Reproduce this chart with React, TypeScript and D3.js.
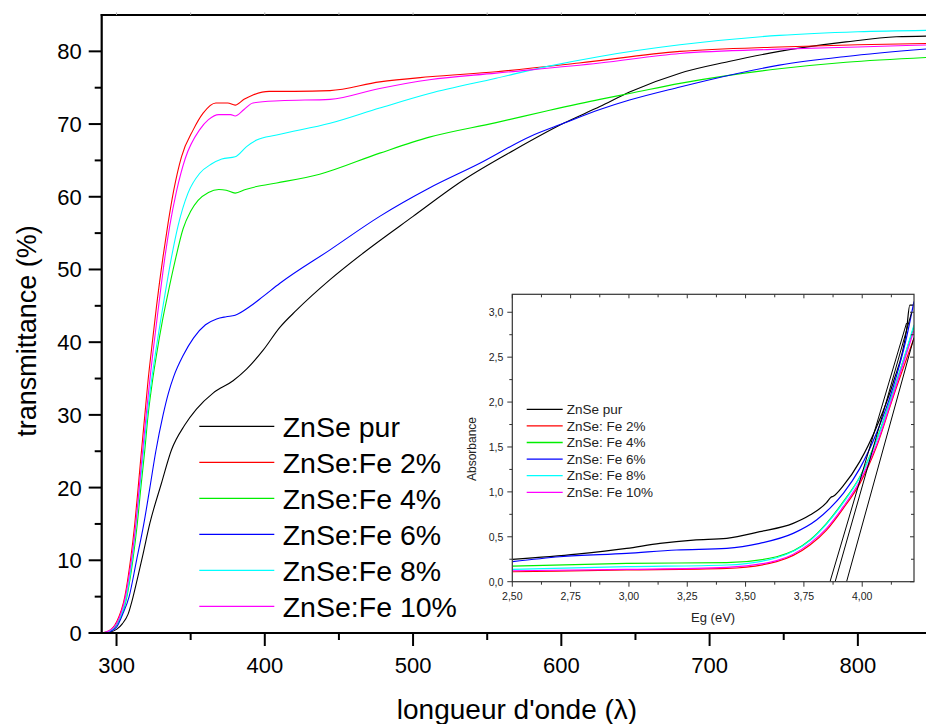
import React from 'react';
import * as d3 from 'd3';

const W = 926;
const H = 724;
const FONT = "'Liberation Sans', Arial, sans-serif";

// ---------- main chart data: [wavelength (nm), transmittance (%)] ----------
const seriesLabels = ['ZnSe pur', 'ZnSe:Fe 2%', 'ZnSe:Fe 4%', 'ZnSe:Fe 6%', 'ZnSe:Fe 8%', 'ZnSe:Fe 10%'];
const insetLabels = ['ZnSe pur', 'ZnSe: Fe 2%', 'ZnSe: Fe 4%', 'ZnSe: Fe 6%', 'ZnSe: Fe 8%', 'ZnSe: Fe 10%'];
const seriesColors = ['#000000', '#ff0000', '#00ee00', '#0000ff', '#00ffff', '#ff00ff'];

const tPur: [number, number][] = [
  [290, 0], [295, 0.1], [300, 0.5], [304, 1.3], [307.8, 2.6], [311.2, 5], [313.9, 7.3], [317.5, 10.5],
  [322.5, 15.1], [330.3, 20.6], [337.1, 25.2], [346, 28.6], [353.9, 30.8], [365.1, 33], [378.6, 34.7],
  [387.7, 36.3], [398.9, 38.9], [410, 42.0], [421.4, 44.4], [444, 48.6], [466, 52.2], [500, 57.3],
  [534, 62.3], [568, 66.4], [601.5, 70.1], [626, 72.4], [646, 74.4], [680, 77.0], [713, 78.6],
  [747, 80.0], [792, 81.3], [826, 82.0], [850, 82.1],
];
const tFe2: [number, number][] = [
  [290, 0], [295, 0.3], [300, 1.5], [305.6, 5], [309.4, 10], [312.3, 15], [314.6, 20], [316.8, 25],
  [319.1, 30], [321.3, 34.8], [323.6, 39], [327, 45], [331.4, 51.8], [334.8, 56.4], [338.6, 60.9],
  [343.8, 65.5], [351.7, 69.2], [358.4, 71.5], [367, 72.9], [375, 72.9], [380, 72.6], [386, 73.4],
  [392, 74.0], [403, 74.5], [420, 74.5], [444, 74.6], [477.5, 75.8], [511, 76.5], [556, 77.2],
  [612, 78.4], [680, 80.0], [747, 80.6], [800, 80.9], [850, 81.1],
];
const tFe4: [number, number][] = [
  [290, 0], [295, 0.2], [300, 1.1], [307, 5], [311, 10], [314, 15], [316.4, 20], [319, 25],
  [321.3, 30], [324, 34.3], [327, 38.3], [331, 43], [335, 47], [339.3, 51], [344.9, 55.6],
  [350, 58], [355, 59.5], [362, 60.6], [369, 61.0], [374, 60.9], [380, 60.5], [387, 61.0],
  [394.5, 61.4], [408, 61.9], [437, 63.1], [477.5, 66.0], [511, 68.2], [556, 70.2], [590, 71.8],
  [626, 73.4], [646, 74.2], [680, 75.6], [713, 76.7], [747, 77.6], [792, 78.5], [850, 79.2],
];
const tFe6: [number, number][] = [
  [290, 0], [295, 0.15], [300, 0.8], [304, 2.5], [308.5, 5], [313.5, 10], [318.4, 15], [322.5, 20],
  [326.5, 25], [331.4, 30], [335, 33], [338.6, 35.3], [345, 38.2], [352, 40.6], [360, 42.4],
  [367.5, 43.2], [374, 43.5], [380, 43.7], [389.9, 44.9], [398.9, 46.3], [410.2, 48.1], [444, 52.7],
  [477.5, 57.3], [511, 61.2], [545, 64.6], [579, 68.3], [601.5, 70.1], [626, 72.0], [646, 73.3],
  [680, 75.1], [698, 76.0], [747, 78.1], [792, 79.3], [850, 80.4],
];
const tFe8: [number, number][] = [
  [290, 0], [295, 0.25], [300, 1.2], [306.7, 5], [310.5, 10], [313.2, 15], [315.7, 20], [318.2, 25],
  [320.7, 30], [323.5, 34.6], [326.5, 38.8], [331.4, 45], [337, 51.6], [341.5, 56], [348.2, 60.5],
  [356, 63.2], [364, 64.5], [371, 65.2], [380, 65.5], [387.7, 66.9], [394.5, 67.8], [408, 68.5],
  [444, 70.1], [477.5, 72.2], [511, 74.2], [556, 76.3], [590, 77.9], [626, 79.3], [680, 80.9],
  [747, 82.2], [800, 82.7], [850, 82.9],
];
const tFe10: [number, number][] = [
  [290, 0], [295, 0.3], [300, 1.3], [306, 5], [310, 10], [313, 15], [315.3, 20], [317.6, 25],
  [320, 30], [322.3, 34.5], [324.5, 38.5], [328.1, 44.5], [332.5, 51.5], [335.9, 56], [340.4, 60.7],
  [346.4, 65.3], [356, 69.2], [362, 70.6], [369, 71.3], [377, 71.3], [380, 71.1], [386, 72.0],
  [392, 72.9], [410, 73.2], [444, 73.4], [477.5, 74.9], [511, 76.1], [556, 77.0], [626, 78.4],
  [680, 79.7], [747, 80.3], [800, 80.6], [850, 80.9],
];
const mainSeries = [tPur, tFe2, tFe4, tFe6, tFe8, tFe10];

const mainYMajor = [0, 10, 20, 30, 40, 50, 60, 70, 80];
const mainYMinor = [5, 15, 25, 35, 45, 55, 65, 75];
const mainXMajor = [300, 400, 500, 600, 700, 800];
const mainXMinor = [350, 450, 550, 650, 750];
const mainXTop = [300, 350, 400, 450, 500, 550, 600, 650, 700, 750, 800];

// ---------- inset data: [Eg (eV), absorbance] ----------
const aPur: [number, number][] = [
  [2.5, 0.249], [2.776, 0.308], [2.99, 0.371], [3.133, 0.427], [3.276, 0.464], [3.419, 0.483],
  [3.561, 0.557], [3.704, 0.65], [3.776, 0.742], [3.847, 0.88], [3.866, 0.94], [3.876, 0.952],
  [3.919, 1.07], [3.99, 1.34], [4.061, 1.72], [4.133, 2.22], [4.19, 2.8], [4.204, 3.08], [4.219, 3.08],
];
const aFe2: [number, number][] = [
  [2.5, 0.111], [2.99, 0.13], [3.419, 0.148], [3.633, 0.223], [3.776, 0.408], [3.847, 0.575],
  [3.919, 0.817], [3.99, 1.095], [4.061, 1.503], [4.133, 2.06], [4.222, 2.71],
];
const aFe4: [number, number][] = [
  [2.5, 0.174], [2.99, 0.204], [3.419, 0.212], [3.633, 0.278], [3.776, 0.464], [3.847, 0.65],
  [3.919, 0.891], [3.99, 1.169], [4.061, 1.578], [4.133, 2.12], [4.222, 2.84],
];
const aFe6: [number, number][] = [
  [2.5, 0.223], [2.704, 0.278], [2.99, 0.316], [3.204, 0.353], [3.419, 0.371], [3.561, 0.427],
  [3.704, 0.538], [3.804, 0.687], [3.861, 0.817], [3.919, 0.984], [3.99, 1.262], [4.061, 1.652],
  [4.133, 2.17], [4.19, 2.72], [4.222, 3.12],
];
const aFe8: [number, number][] = [
  [2.5, 0.137], [2.99, 0.167], [3.419, 0.186], [3.633, 0.267], [3.776, 0.457], [3.847, 0.642],
  [3.919, 0.88], [3.99, 1.162], [4.061, 1.57], [4.133, 2.11], [4.222, 2.86],
];
const aFe10: [number, number][] = [
  [2.5, 0.122], [2.99, 0.137], [3.419, 0.16], [3.633, 0.234], [3.776, 0.427], [3.847, 0.594],
  [3.919, 0.835], [3.99, 1.121], [4.061, 1.522], [4.133, 2.079], [4.222, 2.8],
];
const insetSeries = [aPur, aFe2, aFe4, aFe6, aFe8, aFe10];

// linear fits (tangents) drawn in black: [start, end]
const tangentLines: [number, number][][] = [
  [[3.862, 0], [4.19, 2.88]],
  [[3.884, 0], [4.212, 3.0]],
  [[3.933, 0], [4.222, 2.72]],
];

const insetYMajor = [0, 0.5, 1.0, 1.5, 2.0, 2.5, 3.0];
const insetYMinor = [0.25, 0.75, 1.25, 1.75, 2.25, 2.75];
const insetXMajor = [2.5, 2.75, 3.0, 3.25, 3.5, 3.75, 4.0];
const insetXMinor = [2.625, 2.875, 3.125, 3.375, 3.625, 3.875, 4.125];

export default function App() {
  const x = d3.scaleLinear().domain([290, 850]).range([101.7, 932]);
  const y = d3.scaleLinear().domain([0, 85]).range([633, 15]);
  const line = d3
    .line<[number, number]>()
    .x((d) => x(d[0]))
    .y((d) => y(d[1]))
    .curve(d3.curveMonotoneX);

  const xi = d3.scaleLinear().domain([2.5, 4.222]).range([512.3, 914]);
  const yi = d3.scaleLinear().domain([0, 3.2]).range([581.7, 294.3]);
  const lineI = d3
    .line<[number, number]>()
    .x((d) => xi(d[0]))
    .y((d) => yi(d[1]))
    .curve(d3.curveMonotoneX);
  const straight = d3
    .line<[number, number]>()
    .x((d) => xi(d[0]))
    .y((d) => yi(d[1]));

  const fmt1 = (v: number) => d3.format('.1f')(v).replace('.', ',');
  const fmt2 = (v: number) => d3.format('.2f')(v).replace('.', ',');

  const [x0, x1] = x.range();
  const [yb, yt] = y.range();
  const [ix0, ix1] = xi.range();
  const [iyb, iyt] = yi.range();

  return (
    <svg
      width={W}
      height={H}
      style={{ position: 'absolute', left: 0, top: 0, background: '#fff' }}
      fontFamily={FONT}
    >
      <defs>
        <clipPath id="mainClip">
          <rect x={x0} y={yt} width={x1 - x0} height={yb - yt} />
        </clipPath>
        <clipPath id="insetClip">
          <rect x={ix0} y={iyt} width={ix1 - ix0} height={iyb - iyt} />
        </clipPath>
      </defs>
      <rect x={0} y={0} width={W} height={H} fill="#fff" />

      <g clipPath="url(#mainClip)">
        {mainSeries.map((s, i) => (
          <path key={i} d={line(s) || ''} fill="none" stroke={seriesColors[i]} strokeWidth={1.1} />
        ))}
      </g>

      <line x1={x0} x2={x0} y1={yt - 1} y2={yb + 1} stroke="#000" strokeWidth={2.2} />
      <line x1={x0 - 13} x2={x1} y1={yb} y2={yb} stroke="#000" strokeWidth={2.2} />
      <line x1={x0 - 1} x2={x1} y1={yt} y2={yt} stroke="#000" strokeWidth={2.2} />
      {mainXTop.map((v) => (
        <line key={'xt' + v} x1={x(v)} x2={x(v)} y1={yt - 2.5} y2={yt} stroke="#aaa" strokeWidth={1} />
      ))}
      {mainYMajor.map((v) => (
        <g key={'ym' + v}>
          <line x1={x0 - 13} x2={x0} y1={y(v)} y2={y(v)} stroke="#000" strokeWidth={2} />
          <text x={x0 - 20} y={y(v) + 8} textAnchor="end" fontSize={22} fill="#000">
            {v}
          </text>
        </g>
      ))}
      {mainYMinor.map((v) => (
        <line key={'yn' + v} x1={x0 - 7} x2={x0} y1={y(v)} y2={y(v)} stroke="#000" strokeWidth={2} />
      ))}
      {mainXMajor.map((v) => (
        <g key={'xm' + v}>
          <line x1={x(v)} x2={x(v)} y1={yb} y2={yb + 13} stroke="#000" strokeWidth={2} />
          <text x={x(v)} y={673} textAnchor="middle" fontSize={22} fill="#000">
            {v}
          </text>
        </g>
      ))}
      {mainXMinor.map((v) => (
        <line key={'xn' + v} x1={x(v)} x2={x(v)} y1={yb} y2={yb + 7} stroke="#000" strokeWidth={2} />
      ))}
      <text x={517} y={719} textAnchor="middle" fontSize={28} fill="#000">
        longueur d'onde (λ)
      </text>
      <text transform={`translate(36, 331) rotate(-90)`} textAnchor="middle" fontSize={27} fill="#000">
        transmittance (%)
      </text>

      {seriesLabels.map((lab, i) => {
        const ly = 426.3 + 36 * i;
        return (
          <g key={'lg' + i}>
            <line x1={199.3} x2={274.3} y1={ly} y2={ly} stroke={seriesColors[i]} strokeWidth={1.3} />
            <text x={282.7} y={ly + 10.4} fontSize={28.5} fill="#000">
              {lab}
            </text>
          </g>
        );
      })}

      <rect x={ix0} y={iyt} width={ix1 - ix0} height={iyb - iyt} fill="#fff" stroke="none" />
      <g clipPath="url(#insetClip)">
        {insetSeries.map((s, i) => (
          <path key={'is' + i} d={lineI(s) || ''} fill="none" stroke={seriesColors[i]} strokeWidth={1.2} />
        ))}
        {tangentLines.map((l, i) => (
          <path key={'tl' + i} d={straight(l) || ''} fill="none" stroke="#000" strokeWidth={1} />
        ))}
      </g>
      <rect x={ix0} y={iyt} width={ix1 - ix0} height={iyb - iyt} fill="none" stroke="#333" strokeWidth={1.2} />
      {insetYMajor.map((v) => (
        <g key={'iym' + v}>
          <line x1={ix0 - 5} x2={ix0} y1={yi(v)} y2={yi(v)} stroke="#333" strokeWidth={1} />
          <line x1={ix1 - 4} x2={ix1} y1={yi(v)} y2={yi(v)} stroke="#333" strokeWidth={1} />
          <text x={ix0 - 9} y={yi(v) + 3.8} textAnchor="end" fontSize={10.5} fill="#222">
            {fmt1(v)}
          </text>
        </g>
      ))}
      {insetYMinor.map((v) => (
        <g key={'iyn' + v}>
          <line x1={ix0 - 3} x2={ix0} y1={yi(v)} y2={yi(v)} stroke="#333" strokeWidth={1} />
          <line x1={ix1 - 3} x2={ix1} y1={yi(v)} y2={yi(v)} stroke="#333" strokeWidth={1} />
        </g>
      ))}
      {insetXMajor.map((v) => (
        <g key={'ixm' + v}>
          <line x1={xi(v)} x2={xi(v)} y1={iyb} y2={iyb + 5} stroke="#333" strokeWidth={1} />
          <line x1={xi(v)} x2={xi(v)} y1={iyt} y2={iyt + 4} stroke="#333" strokeWidth={1} />
          <text x={xi(v)} y={iyb + 18} textAnchor="middle" fontSize={10.5} fill="#222">
            {fmt2(v)}
          </text>
        </g>
      ))}
      {insetXMinor.map((v) => (
        <g key={'ixn' + v}>
          <line x1={xi(v)} x2={xi(v)} y1={iyb} y2={iyb + 3} stroke="#333" strokeWidth={1} />
          <line x1={xi(v)} x2={xi(v)} y1={iyt} y2={iyt + 3} stroke="#333" strokeWidth={1} />
        </g>
      ))}
      <text x={(ix0 + ix1) / 2} y={622} textAnchor="middle" fontSize={13} fill="#222">
        Eg (eV)
      </text>
      <text transform={`translate(476, 449) rotate(-90)`} textAnchor="middle" fontSize={12} fill="#222">
        Absorbance
      </text>
      {insetLabels.map((lab, i) => {
        const ly = 409.3 + 16.6 * i;
        return (
          <g key={'ilg' + i}>
            <line x1={526.7} x2={562.7} y1={ly} y2={ly} stroke={seriesColors[i]} strokeWidth={1.3} />
            <text x={566.7} y={ly + 4.6} fontSize={13.5} fill="#222">
              {lab}
            </text>
          </g>
        );
      })}
    </svg>
  );
}
